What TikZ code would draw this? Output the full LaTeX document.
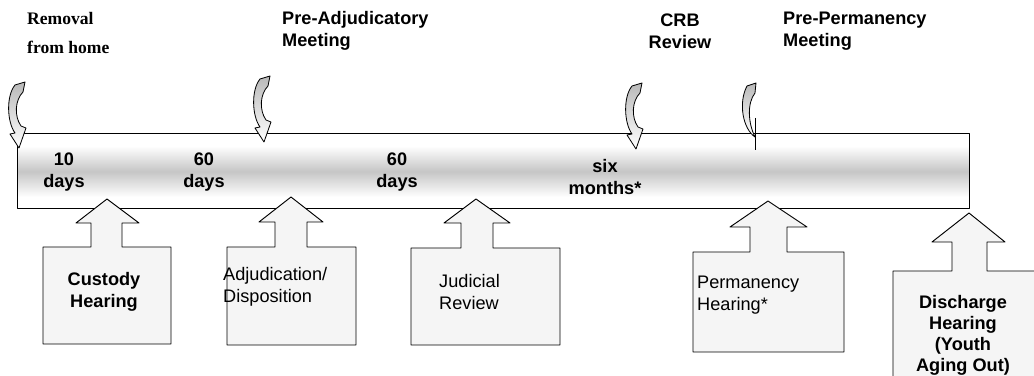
\documentclass[tikz,border=0pt]{standalone}
\usepackage{fontspec}
\setmainfont{Liberation Sans}
\newfontfamily\removalfont{Liberation Serif}

\tikzset{
  lbl/.style={inner sep=0pt,font=\fontsize{15.5}{19}\selectfont},
  boldlbl/.style={inner sep=0pt,font=\fontsize{15.5}{19}\selectfont\bfseries},
  callbox/.style={draw,line width=0.8pt,fill=gray!8},
  curl/.style={draw,line width=0.7pt,top color=gray!55,bottom color=white},
}
\newcommand\curlarrow[2]{\draw[curl,shift={(#1,#2)}] (7,3) -- (17,0) -- (15,10) .. controls (7,18) and (6,34) .. (13,44) -- (18,46) -- (11,66) -- (2,52) -- (7,51) .. controls (-1,40) and (-2,14) .. (7,3) -- cycle;}

\begin{document}
\begin{tikzpicture}[x=0.03cm,y=-0.03cm,line join=round]
\useasboundingbox (0,0) rectangle (1034,376);
\clip (0,0) rectangle (1034,376);
\shade[top color=white,bottom color=white,middle color=gray!45] (17,146) rectangle (969,197);
\draw[line width=0.8pt] (17,133) rectangle (969,208);

\draw[callbox] (43,344) -- (43,247) -- (91,247) -- (91,223) -- (76,223) -- (107,199) -- (139,223) -- (122,223) -- (122,247) -- (171,247) -- (171,344) -- cycle;
\draw[callbox] (227,345) -- (227,247) -- (275,247) -- (275,222) -- (259,222) -- (291,197) -- (323,222) -- (307,222) -- (307,247) -- (356,247) -- (356,345) -- cycle;
\draw[callbox] (411,345) -- (411,248) -- (461,248) -- (461,223) -- (444,223) -- (476,199) -- (510,223) -- (493,223) -- (493,248) -- (560,248) -- (560,345) -- cycle;
\draw[callbox] (693,352) -- (693,252) -- (750,252) -- (750,227) -- (730,227) -- (768,201) -- (807,227) -- (787,227) -- (787,252) -- (844,252) -- (844,352) -- cycle;
\draw[callbox] (893,380) -- (893,271) -- (952,271) -- (952,242) -- (932,242) -- (969,213) -- (1005,242) -- (987,242) -- (987,271) -- (1040,271) -- (1040,380) -- cycle;

\curlarrow{8}{82}
\curlarrow{253}{76}
\curlarrow{625}{83}
\draw[curl,shift={(740,83)}] (7,3) -- (16,0) -- (15,10) .. controls (7,20) and (8,40) .. (15,54) .. controls (3,46) and (-2,20) .. (7,3) -- cycle;
\draw[line width=0.7pt] (755,118) -- (755,150);

\node[anchor=west,align=left,inner sep=0pt,font=\removalfont\fontsize{15}{25}\selectfont\bfseries] (removal) at (27,33) {Removal\\from home};
\node[boldlbl,anchor=west,align=left] (preadj) at (282,31) {Pre-Adjudicatory\\Meeting};
\node[boldlbl,align=center] (crb) at (680,31) {CRB\\Review};
\node[boldlbl,anchor=west,align=left] (preperm) at (783,31) {Pre-Permanency\\Meeting};

\node[boldlbl,align=center] (tendays) at (64,172) {10\\days};
\node[boldlbl,align=center] (sixtya) at (204,172) {60\\days};
\node[boldlbl,align=center] (sixtyb) at (397,172) {60\\days};
\node[boldlbl,align=center] (sixmonths) at (605,177) {six\\months*};

\node[boldlbl,align=center] (custody) at (104,292) {Custody\\Hearing};
\node[lbl,anchor=west,align=left] (adjud) at (223,287) {Adjudication/\\Disposition};
\node[lbl,anchor=west,align=left] (judicial) at (439,292) {Judicial\\Review};
\node[lbl,anchor=west,align=left] (perm) at (697,295) {Permanency\\Hearing*};
\node[boldlbl,align=center,font=\fontsize{15.5}{18}\selectfont\bfseries] (discharge) at (963,335) {Discharge\\Hearing\\(Youth\\Aging Out)};
\end{tikzpicture}
\end{document}
